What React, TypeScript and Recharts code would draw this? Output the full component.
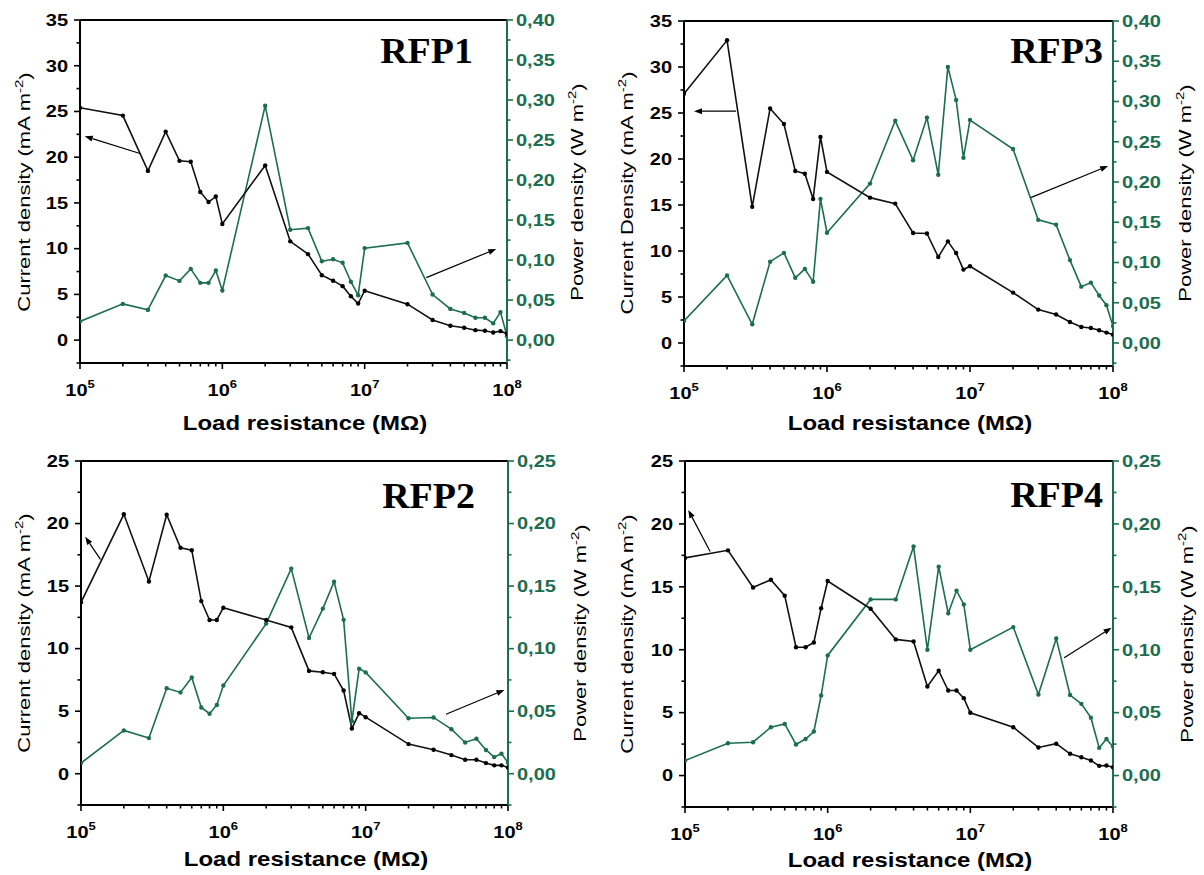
import { LineChart, Line, XAxis, YAxis, ReferenceLine } from "recharts";

// load resistance steps (1e5 ... 1e8), shared by all four panels
const resistance = [
  1e5, 2e5, 3e5, 4e5, 5e5, 6e5, 7e5, 8e5, 9e5,
  1e6, 2e6, 3e6, 4e6, 5e6, 6e6, 7e6, 8e6, 9e6,
  1e7, 2e7, 3e7, 4e7, 5e7, 6e7, 7e7, 8e7, 9e7,
  1e8,
];

// current density (mA m-2) / power density (W m-2)
const rfp1Current = [25.4, 24.55, 18.5, 22.8, 19.6, 19.5, 16.2, 15.1, 15.7, 12.7, 19.1, 10.8, 9.4, 7.1, 6.5, 5.9, 4.8, 4.0, 5.4, 3.93, 2.2, 1.57, 1.35, 1.09, 1.02, 0.84, 0.98, 0.7];
const rfp1Power = [0.0233, 0.0453, 0.0378, 0.0807, 0.074, 0.089, 0.0716, 0.0716, 0.087, 0.062, 0.293, 0.138, 0.14, 0.0985, 0.101, 0.0966, 0.073, 0.056, 0.115, 0.1215, 0.057, 0.039, 0.034, 0.028, 0.028, 0.021, 0.035, 0.005];

const rfp3Current = [27.1, 32.9, 14.8, 25.5, 23.8, 18.7, 18.4, 15.65, 22.4, 18.6, 15.8, 15.15, 11.96, 11.9, 9.35, 11.05, 9.78, 7.98, 8.34, 5.48, 3.63, 3.09, 2.28, 1.74, 1.63, 1.38, 1.13, 0.91];
const rfp3Power = [0.0273, 0.084, 0.0232, 0.101, 0.112, 0.081, 0.092, 0.076, 0.179, 0.137, 0.198, 0.276, 0.227, 0.28, 0.209, 0.343, 0.302, 0.23, 0.277, 0.241, 0.153, 0.147, 0.103, 0.07, 0.075, 0.059, 0.047, 0.021];

const rfp2Current = [13.7, 20.74, 15.37, 20.7, 18.06, 17.87, 13.8, 12.29, 12.29, 13.27, 12.29, 11.7, 8.22, 8.11, 7.98, 6.65, 3.62, 4.84, 4.52, 2.37, 1.92, 1.49, 1.12, 1.12, 0.85, 0.67, 0.67, 0.5];
const rfp2Power = [0.0085, 0.0346, 0.0285, 0.0684, 0.065, 0.077, 0.053, 0.048, 0.055, 0.0705, 0.12, 0.164, 0.1085, 0.132, 0.1535, 0.123, 0.042, 0.084, 0.081, 0.0444, 0.045, 0.0356, 0.025, 0.028, 0.019, 0.0133, 0.016, 0.009];

const rfp4Current = [17.3, 17.9, 14.95, 15.56, 14.3, 10.2, 10.2, 10.58, 13.3, 15.46, 13.26, 10.82, 10.66, 7.08, 8.33, 6.76, 6.76, 6.15, 4.99, 3.84, 2.23, 2.53, 1.73, 1.46, 1.2, 0.77, 0.8, 0.66];
const rfp4Power = [0.0119, 0.0257, 0.0265, 0.0384, 0.041, 0.0247, 0.029, 0.035, 0.0636, 0.0955, 0.14, 0.14, 0.182, 0.1, 0.166, 0.129, 0.147, 0.136, 0.1, 0.118, 0.0644, 0.109, 0.064, 0.057, 0.046, 0.022, 0.029, 0.023];

// axis ticks (minor every half step, labels on the whole steps)
const currentTicksTop = [-2.5, 0, 2.5, 5, 7.5, 10, 12.5, 15, 17.5, 20, 22.5, 25, 27.5, 30, 32.5, 35];
const powerTicksTop = [-0.025, 0, 0.025, 0.05, 0.075, 0.1, 0.125, 0.15, 0.175, 0.2, 0.225, 0.25, 0.275, 0.3, 0.325, 0.35, 0.375, 0.4];
const currentTicksBottom = [-2.5, 0, 2.5, 5, 7.5, 10, 12.5, 15, 17.5, 20, 22.5, 25];
const powerTicksBottom = [-0.025, 0, 0.025, 0.05, 0.075, 0.1, 0.125, 0.15, 0.175, 0.2, 0.225, 0.25];

// annotation arrows, [tail, head] in (resistance, current density) units
const rfp1Arrows = [
  [{ x: 2.64e5, y: 20.4 }, { x: 1.08e5, y: 22.3 }],
  [{ x: 2.71e7, y: 6.84 }, { x: 8.4e7, y: 9.97 }],
];
const rfp3Arrows = [
  [{ x: 2.31e5, y: 25.2 }, { x: 1.175e5, y: 25.2 }],
  [{ x: 2.66e7, y: 15.8 }, { x: 9.25e7, y: 19.24 }],
];
const rfp2Arrows = [
  [{ x: 1.37e5, y: 17.13 }, { x: 1.07e5, y: 18.94 }],
  [{ x: 3.67e7, y: 4.76 }, { x: 9.44e7, y: 6.7 }],
];
const rfp4Arrows = [
  [{ x: 1.5e5, y: 17.8 }, { x: 1.055e5, y: 21.1 }],
  [{ x: 4.55e7, y: 9.36 }, { x: 9.77e7, y: 11.75 }],
];

const GREEN = "#1b6e4f";
const SANS = '"Liberation Sans", Arial, sans-serif';
const SERIF = '"Liberation Serif", "Times New Roman", serif';

const isMultiple = (v: number, step: number) =>
  Math.abs(v / step - Math.round(v / step)) < 1e-6;

const XTick = ({ x, y, payload }: any) => {
  const v = payload.value;
  const exp = Math.log10(v);
  const major = Math.abs(exp - Math.round(exp)) < 1e-6;
  return (
    <g>
      <line x1={x} x2={x} y1={y} y2={y + (major ? 6 : 3.5)} stroke="#000" strokeWidth={1.6} />
      {major && (
        <text
          transform={`translate(${x},${y + 33}) scale(1,0.85)`}
          textAnchor="middle"
          fontFamily={SANS}
          fontWeight="bold"
          fontSize={20}
          fill="#000"
        >
          10
          <tspan fontSize={13} dy={-9}>
            {Math.round(exp)}
          </tspan>
        </text>
      )}
    </g>
  );
};

const LeftTick = ({ x, y, payload }: any) => {
  const v = payload.value;
  const major = isMultiple(v, 5);
  return (
    <g>
      <line x1={x} x2={x - (major ? 6 : 3.5)} y1={y} y2={y} stroke="#000" strokeWidth={1.6} />
      {major && (
        <text
          transform={`translate(${x - 12},${y}) scale(1,0.82)`}
          textAnchor="end"
          dominantBaseline="central"
          fontFamily={SANS}
          fontWeight="bold"
          fontSize={20}
          fill="#000"
        >
          {v}
        </text>
      )}
    </g>
  );
};

const RightTick = ({ x, y, payload }: any) => {
  const v = payload.value;
  const major = isMultiple(v, 0.05);
  return (
    <g>
      <line x1={x} x2={x + (major ? 6 : 3.5)} y1={y} y2={y} stroke={GREEN} strokeWidth={1.6} />
      {major && (
        <text
          transform={`translate(${x + 9},${y}) scale(1,0.82)`}
          textAnchor="start"
          dominantBaseline="central"
          fontFamily={SANS}
          fontWeight="bold"
          fontSize={20}
          fill={GREEN}
        >
          {v.toFixed(2).replace(".", ",")}
        </text>
      )}
    </g>
  );
};

const Arrow = (props: any) => {
  const { x1, y1, x2, y2 } = props;
  const a = Math.atan2(y2 - y1, x2 - x1);
  const len = 8;
  const half = 3;
  const bx = x2 - len * Math.cos(a);
  const by = y2 - len * Math.sin(a);
  const pts = `${x2},${y2} ${bx + half * Math.sin(a)},${by - half * Math.cos(a)} ${bx - half * Math.sin(a)},${by + half * Math.cos(a)}`;
  return (
    <g>
      <line x1={x1} y1={y1} x2={bx} y2={by} stroke="#000" strokeWidth={1.2} />
      <polygon points={pts} fill="#000" />
    </g>
  );
};

interface PanelProps {
  current: number[];
  power: number[];
  arrows: { x: number; y: number }[][];
  currentTicks: number[];
  powerTicks: number[];
  plotLeft: number;
  plotTop: number;
  plotW: number;
  plotH: number;
}

const Panel = ({ current, power, arrows, currentTicks, powerTicks, plotLeft, plotTop, plotW, plotH }: PanelProps) => {
  const rows = resistance.map((r, i) => ({ r, j: current[i], p: power[i] }));
  const jMax = currentTicks[currentTicks.length - 1];
  const pMax = powerTicks[powerTicks.length - 1];
  const jMin = currentTicks[0];
  const pMin = (jMin * pMax) / jMax;

  return (
    <div style={{ position: "absolute", left: plotLeft - 80, top: plotTop - 10 }}>
      <LineChart
        width={80 + plotW + 80}
        height={10 + plotH + 50}
        data={rows}
        margin={{ top: 10, right: 0, bottom: 0, left: 0 }}
      >
        <XAxis
          dataKey="r"
          type="number"
          scale="log"
          domain={[1e5, 1e8]}
          allowDataOverflow
          ticks={resistance}
          interval={0}
          tick={(p: any) => <XTick {...p} />}
          tickLine={false}
          tickSize={0}
          tickMargin={0}
          height={50}
          axisLine={{ stroke: "#000", strokeWidth: 2 }}
        />
        <YAxis
          yAxisId="j"
          domain={[jMin, jMax]}
          allowDataOverflow
          ticks={currentTicks}
          interval={0}
          tick={(p: any) => <LeftTick {...p} />}
          tickLine={false}
          tickSize={0}
          tickMargin={0}
          width={80}
          axisLine={{ stroke: "#000", strokeWidth: 2 }}
        />
        <YAxis
          yAxisId="p"
          orientation="right"
          domain={[pMin, pMax]}
          allowDataOverflow
          ticks={powerTicks}
          interval={0}
          tick={(p: any) => <RightTick {...p} />}
          tickLine={false}
          tickSize={0}
          tickMargin={0}
          width={80}
          axisLine={{ stroke: GREEN, strokeWidth: 2 }}
        />
        <ReferenceLine yAxisId="j" y={jMax} stroke="#000" strokeWidth={2} />
        <Line
          yAxisId="p"
          dataKey="p"
          type="linear"
          stroke={GREEN}
          strokeWidth={1.6}
          dot={{ r: 2.2, fill: GREEN, stroke: GREEN, strokeWidth: 0 }}
          isAnimationActive={false}
        />
        <Line
          yAxisId="j"
          dataKey="j"
          type="linear"
          stroke="#111"
          strokeWidth={1.6}
          dot={{ r: 2.2, fill: "#000", stroke: "#000", strokeWidth: 0 }}
          isAnimationActive={false}
        />
        {arrows.map((seg, i) => (
          <ReferenceLine key={i} yAxisId="j" segment={seg} shape={(p: any) => <Arrow {...p} />} />
        ))}
      </LineChart>
    </div>
  );
};

const YTitle = ({ x, y, label, color }: { x: number; y: number; label: string; color?: string }) => (
  <text
    transform={`translate(${x},${y}) rotate(-90) scale(1,0.72)`}
    textAnchor="middle"
    dominantBaseline="central"
    fontFamily={SANS}
    fontSize={22}
    fill={color || "#000"}
  >
    {label}
    <tspan fontSize={15} dy={-8}>-2</tspan>
    <tspan dy={8}>)</tspan>
  </text>
);

const XTitle = ({ x, y }: { x: number; y: number }) => (
  <text
    transform={`translate(${x},${y}) scale(1,0.85)`}
    textAnchor="middle"
    fontFamily={SANS}
    fontWeight="bold"
    fontSize={24}
    fill="#000"
  >
    Load resistance (MΩ)
  </text>
);

const PanelName = ({ x, y, name }: { x: number; y: number; name: string }) => (
  <text
    transform={`translate(${x},${y}) scale(1,0.93)`}
    textAnchor="end"
    fontFamily={SERIF}
    fontWeight="bold"
    fontSize={38}
    fill="#000"
  >
    {name}
  </text>
);

export default function App() {
  return (
    <div style={{ position: "absolute", left: 0, top: 0, width: 1204, height: 875, background: "#fff", overflow: "hidden" }}>
      <Panel current={rfp1Current} power={rfp1Power} arrows={rfp1Arrows} currentTicks={currentTicksTop} powerTicks={powerTicksTop} plotLeft={80} plotTop={20} plotW={427} plotH={343} />
      <Panel current={rfp3Current} power={rfp3Power} arrows={rfp3Arrows} currentTicks={currentTicksTop} powerTicks={powerTicksTop} plotLeft={684} plotTop={21} plotW={429} plotH={345} />
      <Panel current={rfp2Current} power={rfp2Power} arrows={rfp2Arrows} currentTicks={currentTicksBottom} powerTicks={powerTicksBottom} plotLeft={81} plotTop={461} plotW={427} plotH={344} />
      <Panel current={rfp4Current} power={rfp4Power} arrows={rfp4Arrows} currentTicks={currentTicksBottom} powerTicks={powerTicksBottom} plotLeft={685} plotTop={461} plotW={428} plotH={346} />

      <svg width={1204} height={875} style={{ position: "absolute", left: 0, top: 0, pointerEvents: "none" }}>
        <YTitle x={25} y={192} label="Current density (mA m" />
        <YTitle x={578} y={192} label="Power density (W m" />
        <YTitle x={628} y={193} label="Current Density (mA m" />
        <YTitle x={1186} y={193} label="Power density (W m" />
        <YTitle x={25} y={633} label="Current density (mA m" />
        <YTitle x={581} y={633} label="Power density (W m" />
        <YTitle x={628} y={634} label="Current density (mA m" />
        <YTitle x={1188} y={634} label="Power density (W m" />

        <XTitle x={305} y={430} />
        <XTitle x={910} y={430} />
        <XTitle x={306} y={866} />
        <XTitle x={910} y={867} />

        <PanelName x={473} y={63} name="RFP1" />
        <PanelName x={1103} y={63} name="RFP3" />
        <PanelName x={475} y={508} name="RFP2" />
        <PanelName x={1103} y={507} name="RFP4" />
      </svg>
    </div>
  );
}
